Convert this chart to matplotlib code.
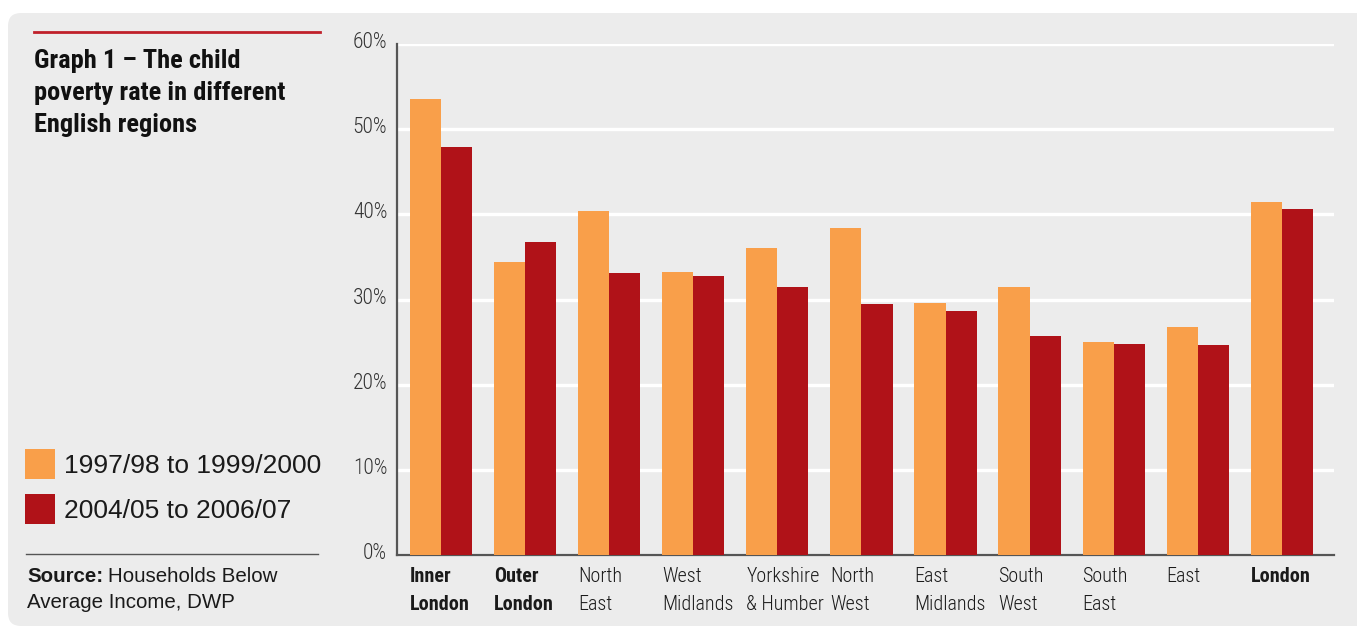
import matplotlib
matplotlib.use("Agg")
import matplotlib.pyplot as plt
from matplotlib.patches import FancyBboxPatch, Rectangle
from matplotlib.lines import Line2D
import matplotlib.transforms as mtransforms
import numpy as np
import logging
logging.getLogger("matplotlib.font_manager").setLevel(logging.ERROR)

regions = ["Inner\nLondon", "Outer\nLondon", "North\nEast", "West\nMidlands",
           "Yorkshire\n& Humber", "North\nWest", "East\nMidlands", "South\nWest",
           "South\nEast", "East", "London"]
bold_regions = ["Inner\nLondon", "Outer\nLondon", "London"]
series_1997 = [53.5, 34.4, 40.4, 33.2, 36.0, 38.4, 29.6, 31.5, 25.0, 26.8, 41.4]
series_2004 = [47.9, 36.7, 33.1, 32.8, 31.5, 29.5, 28.6, 25.7, 24.8, 24.7, 40.6]
series_names = ["1997/98 to 1999/2000", "2004/05 to 2006/07"]
yticks = [0, 10, 20, 30, 40, 50, 60]
ytick_labels = ["0%", "10%", "20%", "30%", "40%", "50%", "60%"]

ORANGE = "#f99f4a"
RED = "#b01218"
BG = "#ececec"
NARROW = ["Roboto Condensed", "Archivo Narrow", "IBM Plex Sans Condensed", "DejaVu Sans"]
REG = ["Liberation Sans", "DejaVu Sans"]

W, H = 1357, 628
fig = plt.figure(figsize=(W / 100, H / 100), dpi=100)
fig.patch.set_facecolor("white")

def fx(px):
    return px / W

def fy(py):
    return 1 - py / H

# background panel (in inches)
panel = FancyBboxPatch((0.08, 0.02), 14.0, (626 - 13) / 100,
                       boxstyle="round,pad=0,rounding_size=0.13",
                       transform=fig.dpi_scale_trans, facecolor=BG,
                       edgecolor="none", zorder=-10)
fig.patches.append(panel)

# axes
ax = fig.add_axes([fx(397), fy(555), fx(1334 - 397), (555 - 44) / H], zorder=2)
ax.patch.set_visible(False)

x = np.arange(len(regions))
bw = 0.37
ax.bar(x - bw / 2, series_1997, width=bw, color=ORANGE, zorder=3)
ax.bar(x + bw / 2, series_2004, width=bw, color=RED, zorder=3)

ax.set_ylim(0, 60)
ax.set_xlim(-0.523, 10.62)
ax.set_yticks(yticks)
ax.set_yticklabels(ytick_labels)
ax.yaxis.grid(True, color="white", linewidth=2.4, zorder=1)
ax.set_axisbelow(True)
ax.tick_params(axis="y", length=0, pad=7, labelsize=15.5, labelcolor="#333333")
for lab in ax.get_yticklabels():
    lab.set_family(NARROW)
    lab.set_fontweight("light")
    lab.set_transform(lab.get_transform() +
                      mtransforms.ScaledTranslation(0, 4 / 100, fig.dpi_scale_trans))

ax.set_xticks(x - bw)
ax.set_xticklabels(regions)
ax.tick_params(axis="x", length=0, pad=9, labelsize=14.5, labelcolor="#1a1a1a")
for lab, name in zip(ax.get_xticklabels(), regions):
    lab.set_family(NARROW)
    lab.set_horizontalalignment("left")
    lab.set_linespacing(1.55)
    if name in bold_regions:
        lab.set_fontweight("bold")
    else:
        lab.set_fontweight("light")

for s in ["top", "right"]:
    ax.spines[s].set_visible(False)
ax.spines["left"].set_color("#555555")
ax.spines["left"].set_linewidth(1.6)
ax.spines["bottom"].set_color("#555555")
ax.spines["bottom"].set_linewidth(1.6)

# title block
fig.add_artist(Line2D([fx(34), fx(320)], [fy(32), fy(32)], color="#c0202a",
                      linewidth=2, transform=fig.transFigure))
fig.text(fx(34), fy(49), "Graph 1 \u2013 The child\npoverty rate in different\nEnglish regions",
         family=NARROW, fontweight="bold", fontsize=19, color="#111111",
         va="top", ha="left", linespacing=1.42)

# legend
for i, (name, col) in enumerate(zip(series_names, [ORANGE, RED])):
    top = 449 + i * 45
    fig.patches.append(Rectangle((fx(25), fy(top + 30)), fx(30), 30 / H,
                                 transform=fig.transFigure, facecolor=col,
                                 edgecolor="none"))
    fig.text(fx(64), fy(top + 17), name, family=REG, fontsize=19,
             color="#1a1a1a", va="center", ha="left")

fig.add_artist(Line2D([fx(26), fx(318)], [fy(554), fy(554)], color="#555555",
                      linewidth=1, transform=fig.transFigure))
fig.text(fx(27), fy(577), "Source:", family=REG, fontweight="bold",
         fontsize=14.8, color="#1a1a1a", va="center", ha="left")
fig.text(fx(108), fy(577), "Households Below", family=REG,
         fontsize=14.8, color="#1a1a1a", va="center", ha="left")
fig.text(fx(27), fy(603), "Average Income, DWP", family=REG,
         fontsize=14.8, color="#1a1a1a", va="center", ha="left")

fig.savefig("out.png", dpi=100, facecolor=fig.get_facecolor())
